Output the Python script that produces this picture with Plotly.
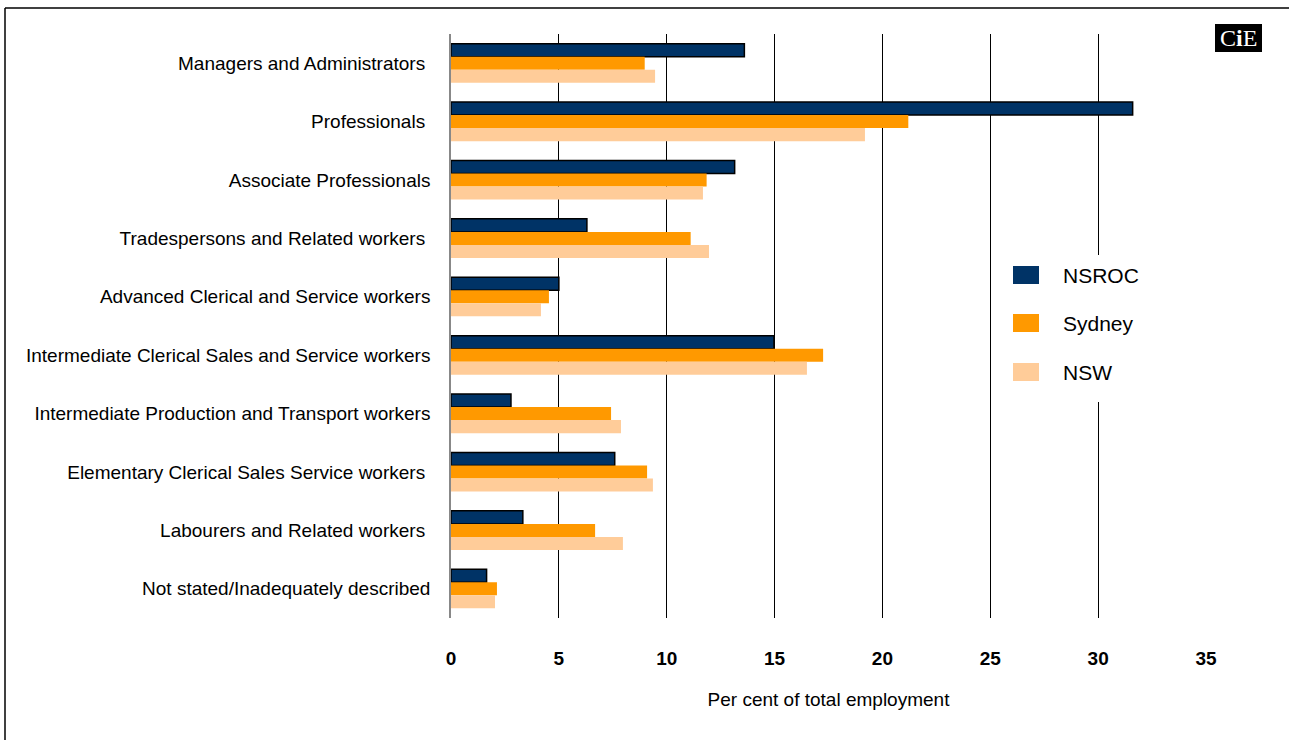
import plotly.graph_objects as go

categories = [
    "Managers and Administrators ",
    "Professionals ",
    "Associate Professionals",
    "Tradespersons and Related workers ",
    "Advanced Clerical and Service workers",
    "Intermediate Clerical Sales and Service workers",
    "Intermediate Production and Transport workers",
    "Elementary Clerical Sales Service workers ",
    "Labourers and Related workers ",
    "Not stated/Inadequately described",
]
nsroc = [13.6, 31.6, 13.15, 6.3, 5.0, 14.97, 2.78, 7.59, 3.33, 1.65]
sydney = [8.98, 21.2, 11.85, 11.11, 4.54, 17.25, 7.42, 9.09, 6.68, 2.13]
nsw = [9.46, 19.19, 11.68, 11.96, 4.17, 16.5, 7.88, 9.36, 7.97, 2.04]
series_names = ["NSROC", "Sydney", "NSW"]
colors = ["#003366", "#FF9900", "#FFCC99"]
x_ticks = [0, 5, 10, 15, 20, 25, 30, 35]

FONT = "Liberation Sans Narrow, Arial Narrow, Liberation Sans, Arial, sans-serif"

fig = go.Figure()
for name, vals, col in zip(series_names, [nsroc, sydney, nsw], colors):
    fig.add_trace(go.Bar(
        y=categories, x=vals, name=name, orientation="h",
        marker=dict(color=col,
                    line=dict(color="#000000" if name == "NSROC" else col,
                              width=1.5 if name == "NSROC" else 0)),
        showlegend=False,
    ))

W, H = 1289, 740
L, R, T, B = 451, 1206, 34, 618


def px(xp):
    return (xp - L) / (R - L)


def py(yp):
    return (B - yp) / (B - T)


shapes = []
annotations = []
# figure border (top and left)
shapes.append(dict(type="line", xref="paper", yref="paper", x0=px(5), x1=px(1289),
                   y0=py(8), y1=py(8), line=dict(color="black", width=1.5)))
shapes.append(dict(type="line", xref="paper", yref="paper", x0=px(5), x1=px(5),
                   y0=py(8), y1=py(740), line=dict(color="black", width=1.5)))
# legend background
shapes.append(dict(type="rect", xref="paper", yref="paper", x0=px(995), x1=px(1150),
                   y0=py(255), y1=py(402), fillcolor="white", line=dict(width=0),
                   layer="above"))
leg_y = [275, 323, 372]
for name, col, yy in zip(series_names, colors, leg_y):
    shapes.append(dict(type="rect", xref="paper", yref="paper", x0=px(1013), x1=px(1039),
                       y0=py(yy - 9), y1=py(yy + 9), fillcolor=col, line=dict(width=0),
                       layer="above"))
    annotations.append(dict(text=name, xref="paper", yref="paper", x=px(1061), y=py(yy),
                            xanchor="left", yanchor="middle", showarrow=False,
                            font=dict(family=FONT, size=21, color="black")))
# logo
shapes.append(dict(type="rect", xref="paper", yref="paper", x0=px(1215), x1=px(1262),
                   y0=py(24), y1=py(52), fillcolor="black", line=dict(width=0)))
annotations.append(dict(text="C<b>i</b>E", xref="paper", yref="paper", x=px(1238.5), y=py(38),
                        xanchor="center", yanchor="middle", showarrow=False,
                        font=dict(family="Liberation Serif, serif", size=24, color="white")))

fig.update_layout(
    width=W, height=H,
    margin=dict(l=L, r=W - R, t=T, b=H - B),
    paper_bgcolor="white", plot_bgcolor="white",
    barmode="group", bargap=0.33, bargroupgap=0,
    font=dict(family=FONT, color="black"),
    shapes=shapes, annotations=annotations,
    xaxis=dict(range=[0, 35], tickvals=x_ticks, showgrid=True, gridcolor="black",
               gridwidth=1, zeroline=False, showline=False,
               tickfont=dict(family=FONT, size=19, color="black", weight="bold"),
               ticks="", ticklabelstandoff=27,
               title=dict(text="Per cent of total employment", standoff=24,
                          font=dict(family=FONT, size=19, color="black"))),
    yaxis=dict(autorange="reversed", showgrid=False, zeroline=False,
               showline=True, linecolor="#888888", linewidth=1.5,
               tickfont=dict(family=FONT, size=19, color="black"),
               ticks="", ticklabelstandoff=15),
)

fig.write_html("out.html")
